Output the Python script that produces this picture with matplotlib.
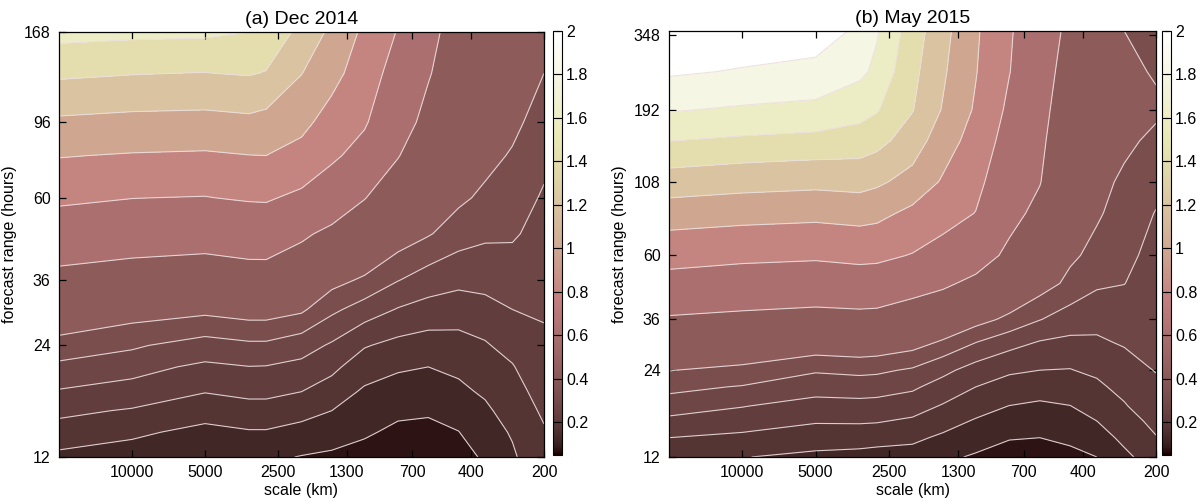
import numpy as np
import matplotlib
matplotlib.use('Agg')
import matplotlib.pyplot as plt
from matplotlib.colors import Normalize
from matplotlib.cm import ScalarMappable
from matplotlib.ticker import NullLocator

plt.rcParams['font.family'] = ['Liberation Sans', 'DejaVu Sans']

# grid of scales (km), same for both panels
scale_km = [20000, 10000, 5000, 3300, 2800, 2000, 1500, 1100, 800, 600, 450, 350, 270, 200]

# (a) Dec 2014: forecast range nodes (hours) and values, one list per scale
hours_dec = [12, 14, 16, 18, 21, 24, 30, 36, 48, 60, 78, 96, 130, 168]
dec_cols = [
    [0.140, 0.177, 0.214, 0.246, 0.289, 0.331, 0.405, 0.463, 0.600, 0.734, 0.911, 1.071, 1.338, 1.570],
    [0.123, 0.162, 0.196, 0.229, 0.271, 0.308, 0.379, 0.443, 0.573, 0.703, 0.888, 1.051, 1.309, 1.550],
    [0.110, 0.137, 0.171, 0.202, 0.241, 0.281, 0.365, 0.431, 0.560, 0.694, 0.878, 1.044, 1.295, 1.540],
    [0.110, 0.146, 0.182, 0.212, 0.249, 0.291, 0.378, 0.444, 0.580, 0.716, 0.897, 1.062, 1.314, 1.500],
    [0.110, 0.146, 0.182, 0.212, 0.248, 0.291, 0.378, 0.445, 0.580, 0.720, 0.900, 1.041, 1.290, 1.450],
    [0.098, 0.134, 0.168, 0.200, 0.237, 0.273, 0.360, 0.418, 0.521, 0.665, 0.838, 0.956, 1.105, 1.250],
    [0.092, 0.123, 0.150, 0.178, 0.213, 0.244, 0.312, 0.370, 0.473, 0.588, 0.733, 0.826, 0.970, 1.060],
    [0.085, 0.106, 0.126, 0.143, 0.174, 0.204, 0.279, 0.342, 0.432, 0.504, 0.637, 0.721, 0.800, 0.865],
    [0.075, 0.092, 0.108, 0.129, 0.157, 0.187, 0.247, 0.302, 0.386, 0.441, 0.505, 0.555, 0.628, 0.690],
    [0.075, 0.090, 0.105, 0.125, 0.150, 0.179, 0.232, 0.278, 0.355, 0.392, 0.435, 0.469, 0.509, 0.530],
    [0.085, 0.099, 0.119, 0.138, 0.162, 0.183, 0.225, 0.264, 0.325, 0.361, 0.386, 0.406, 0.435, 0.460],
    [0.105, 0.124, 0.141, 0.157, 0.177, 0.195, 0.235, 0.266, 0.310, 0.340, 0.368, 0.387, 0.416, 0.440],
    [0.143, 0.155, 0.169, 0.181, 0.197, 0.216, 0.250, 0.274, 0.307, 0.324, 0.345, 0.364, 0.395, 0.420],
    [0.183, 0.196, 0.207, 0.217, 0.230, 0.241, 0.256, 0.266, 0.282, 0.295, 0.312, 0.328, 0.350, 0.380],
]

# (b) May 2015
hours_may = [12, 14, 16, 18, 21, 24, 30, 36, 48, 60, 84, 108, 150, 192, 260, 360]
may_cols = [
    [0.168, 0.200, 0.239, 0.273, 0.316, 0.352, 0.426, 0.486, 0.637, 0.770, 1.004, 1.214, 1.504, 1.718, 1.930, 2.020],
    [0.152, 0.190, 0.223, 0.252, 0.297, 0.337, 0.410, 0.470, 0.611, 0.741, 0.975, 1.178, 1.471, 1.679, 1.888, 2.020],
    [0.140, 0.173, 0.205, 0.233, 0.270, 0.306, 0.392, 0.457, 0.595, 0.727, 0.956, 1.156, 1.446, 1.652, 1.853, 2.000],
    [0.135, 0.172, 0.206, 0.235, 0.274, 0.313, 0.398, 0.462, 0.610, 0.749, 0.978, 1.173, 1.415, 1.576, 1.745, 1.870],
    [0.130, 0.170, 0.204, 0.233, 0.272, 0.310, 0.394, 0.459, 0.605, 0.742, 0.958, 1.136, 1.370, 1.518, 1.658, 1.720],
    [0.130, 0.161, 0.193, 0.221, 0.259, 0.294, 0.376, 0.435, 0.554, 0.692, 0.856, 1.037, 1.207, 1.310, 1.360, 1.410],
    [0.110, 0.142, 0.170, 0.196, 0.230, 0.264, 0.343, 0.410, 0.521, 0.632, 0.780, 0.880, 0.999, 1.087, 1.130, 1.170],
    [0.095, 0.120, 0.146, 0.169, 0.200, 0.231, 0.301, 0.373, 0.474, 0.560, 0.696, 0.753, 0.825, 0.879, 0.910, 0.930],
    [0.080, 0.103, 0.128, 0.149, 0.180, 0.208, 0.270, 0.338, 0.418, 0.477, 0.538, 0.577, 0.628, 0.666, 0.705, 0.720],
    [0.085, 0.100, 0.122, 0.142, 0.172, 0.200, 0.247, 0.302, 0.379, 0.416, 0.471, 0.505, 0.525, 0.541, 0.560, 0.580],
    [0.090, 0.108, 0.130, 0.149, 0.175, 0.198, 0.239, 0.278, 0.337, 0.360, 0.380, 0.396, 0.416, 0.431, 0.450, 0.470],
    [0.100, 0.126, 0.150, 0.167, 0.190, 0.210, 0.242, 0.268, 0.308, 0.336, 0.357, 0.364, 0.376, 0.380, 0.390, 0.400],
    [0.140, 0.161, 0.179, 0.196, 0.214, 0.230, 0.255, 0.274, 0.301, 0.313, 0.330, 0.343, 0.360, 0.370, 0.365, 0.350],
    [0.170, 0.198, 0.212, 0.225, 0.241, 0.252, 0.260, 0.267, 0.277, 0.286, 0.298, 0.316, 0.341, 0.358, 0.345, 0.330],
]

fill_levels = [0.05, 0.1, 0.15, 0.2, 0.25, 0.3, 0.35, 0.5, 0.7, 0.9, 1.1, 1.3, 1.5, 1.7, 1.9, 2.1]
line_levels = fill_levels[1:-1]

xticks = [10000, 5000, 2500, 1300, 700, 400, 200]
yticks_dec = [12, 24, 36, 60, 96, 168]
yticks_may = [12, 24, 36, 60, 108, 192, 348]
cbar_ticks = [0.2, 0.4, 0.6, 0.8, 1.0, 1.2, 1.4, 1.6, 1.8, 2.0]
cbar_labels = ['0.2', '0.4', '0.6', '0.8', '1', '1.2', '1.4', '1.6', '1.8', '2']

cmap = plt.get_cmap('pink')

W, H = 1200, 504
fig = plt.figure(figsize=(12, 5.04), dpi=100)


def box(x0, y0, x1, y1):
    return [x0 / W, 1 - y1 / H, (x1 - x0) / W, (y1 - y0) / H]


def panel(ax, cax, hours, cols, ytop, yticks, title):
    norm = Normalize(vmin=0.05, vmax=2.0)
    z = np.column_stack(cols)
    ax.contourf(scale_km, hours, z, levels=fill_levels, cmap=cmap, norm=norm)
    ax.contour(scale_km, hours, z, levels=line_levels, colors='#ecdede',
               linewidths=0.8, alpha=0.9)
    ax.set_xscale('log')
    ax.set_yscale('log')
    ax.set_xlim(20000, 200)
    ax.set_ylim(12, ytop)
    ax.set_xticks(xticks, labels=[str(t) for t in xticks])
    ax.set_yticks(yticks, labels=[str(t) for t in yticks])
    ax.xaxis.set_minor_locator(NullLocator())
    ax.yaxis.set_minor_locator(NullLocator())
    ax.tick_params(direction='in', top=True, right=True, length=5, width=0.9,
                   labelsize=11.5, pad=6)
    for sp in ax.spines.values():
        sp.set_linewidth(0.9)
    ax.set_xlabel('scale (km)', fontsize=11.5, labelpad=2)
    ax.set_ylabel('forecast range (hours)', fontsize=11.5, labelpad=5)
    ax.set_title(title, fontsize=14, pad=6)

    cb = fig.colorbar(ScalarMappable(norm=norm, cmap=cmap), cax=cax)
    cb.set_ticks(cbar_ticks, labels=cbar_labels)
    cb.outline.set_linewidth(0.8)
    cax.tick_params(direction='in', left=True, right=True, length=4, width=0.8,
                    labelsize=11.5, pad=3)


ax1 = fig.add_axes(box(59, 32, 544, 457))
cax1 = fig.add_axes(box(553, 31, 562, 455))
panel(ax1, cax1, hours_dec, dec_cols, 168, yticks_dec, '(a) Dec 2014')

ax2 = fig.add_axes(box(669, 31, 1156, 457))
cax2 = fig.add_axes(box(1162, 31, 1171, 455))
panel(ax2, cax2, hours_may, may_cols, 360, yticks_may, '(b) May 2015')

fig.savefig('out.png', dpi=100)
